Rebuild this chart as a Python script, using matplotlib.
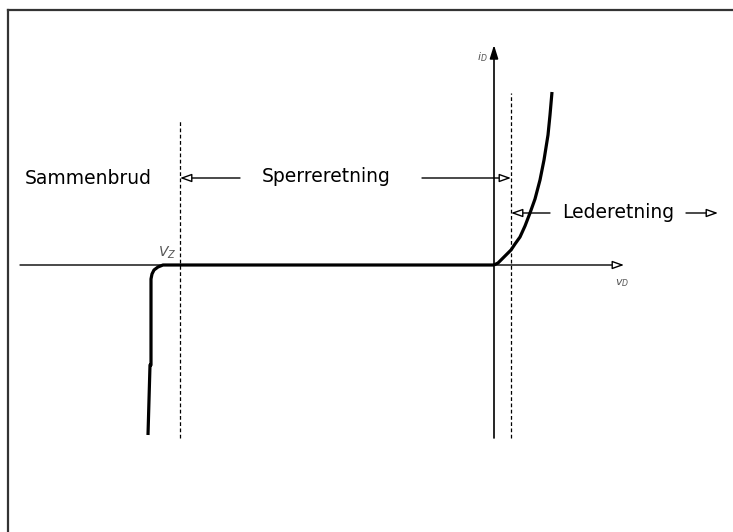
import matplotlib.pyplot as plt
from matplotlib.lines import Line2D

# Diode characteristic, schematic units (origin where the axes cross)
forward_v = [0, 4, 8, 13, 17, 21, 26, 31, 36, 41, 46, 50, 54, 56, 58]
forward_i = [0, 2, 6, 11, 15, 21, 28, 39, 52, 66, 85, 105, 130, 150, 173]
reverse_v = [0, -331, -336, -340, -342, -343, -343, -344, -346]
reverse_i = [0, 0, -2, -5, -9, -14, -100, -100, -170]

v_zener = -314      # dashed line at breakdown
v_knee = 17         # dashed line at knee
labels = ["Sammenbrud", "Sperreretning", "Lederetning"]

W, H = 733, 532
fig = plt.figure(figsize=(W / 100, H / 100), dpi=100)
ax = fig.add_axes([0, 0, 1, 1])
ax.set_xlim(-494, W - 494)
ax.set_ylim(-(H - 265), 265)
ax.axis('off')

# frame (only left and top edges visible in crop)
fig.add_artist(Line2D([8 / W, 8 / W], [0, 1 - 10 / H], color='#333333', lw=1.6))
fig.add_artist(Line2D([8 / W, 1], [1 - 10 / H, 1 - 10 / H], color='#333333', lw=1.6))

hollow = dict(arrowstyle='-|>,head_length=0.7,head_width=0.25', fc='white', ec='black',
              lw=1.0, shrinkA=0, shrinkB=0)

# axes
ax.annotate('', xy=(130, 0), xytext=(-474, 0), arrowprops=hollow)
ax.annotate('', xy=(0, 220), xytext=(0, -173),
            arrowprops=dict(arrowstyle='-|>,head_length=0.8,head_width=0.25', fc='black',
                            ec='black', lw=1.2, shrinkA=0, shrinkB=0))
ax.text(-6, 208, r'$i_D$', ha='right', va='center', fontsize=8, color='#555555')
ax.text(128, -18, r'$v_D$', ha='center', va='center', fontsize=8, color='#555555')
ax.text(v_zener - 4, 4, r'$V_Z$', ha='right', va='bottom', fontsize=10, color='#555555')

# dashed lines
ax.plot([v_zener, v_zener], [-173, 145], ls=(0, (3, 2)), color='black', lw=0.9)
ax.plot([v_knee, v_knee], [-173, 172], ls=(0, (3, 2)), color='black', lw=0.9)

# characteristic
ax.plot(forward_v, forward_i, color='black', lw=2.3, solid_capstyle='butt')
ax.plot(reverse_v, reverse_i, color='black', lw=2.3, solid_capstyle='butt')

# region labels and arrows
fs = 13.5
ax.text(-469, 86, labels[0], ha='left', va='center', fontsize=fs, family='DejaVu Sans')
ax.text(-232, 89, labels[1], ha='left', va='center', fontsize=fs, family='DejaVu Sans')
ax.text(68, 52, labels[2], ha='left', va='center', fontsize=fs, family='DejaVu Sans')

ax.annotate('', xy=(v_zener, 87), xytext=(-254, 87), arrowprops=hollow)
ax.annotate('', xy=(v_knee, 87), xytext=(-72, 87), arrowprops=hollow)
ax.annotate('', xy=(v_knee, 52), xytext=(56, 52), arrowprops=hollow)
ax.annotate('', xy=(224, 52), xytext=(192, 52), arrowprops=hollow)

fig.savefig('out.png', dpi=100, facecolor='white')
